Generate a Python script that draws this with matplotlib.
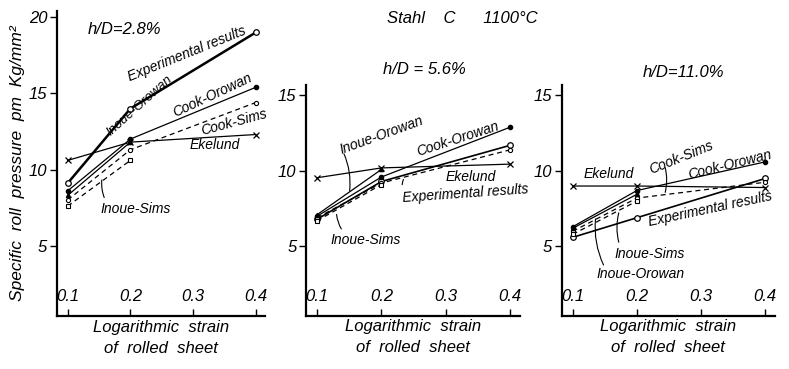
import matplotlib
matplotlib.use("Agg")
import matplotlib.pyplot as plt

plt.rcParams["font.family"] = ["Liberation Sans", "DejaVu Sans"]
plt.rcParams["font.style"] = "italic"

# logarithmic strain of rolled sheet
strain = [0.1, 0.2, 0.4]
strain_inoue = [0.1, 0.2]

# h/D = 2.8 %
exp_28 = [9.1, 14.0, 19.0]
cook_orowan_28 = [8.6, 12.0, 15.4]
cook_sims_28 = [8.0, 11.3, 14.4]
ekelund_28 = [10.6, 11.8, 12.3]
inoue_orowan_28 = [8.3, 11.8]
inoue_sims_28 = [7.6, 10.6]

# h/D = 5.6 %
exp_56 = [6.8, 9.3, 11.7]
cook_orowan_56 = [7.0, 9.6, 12.9]
cook_sims_56 = [6.9, 9.2, 11.4]
ekelund_56 = [9.55, 10.2, 10.45]
inoue_orowan_56 = [7.1, 10.1]
inoue_sims_56 = [6.7, 9.1]

# h/D = 11.0 %
exp_110 = [5.6, 6.9, 9.5]
cook_orowan_110 = [6.3, 8.7, 10.6]
cook_sims_110 = [6.0, 8.2, 9.25]
ekelund_110 = [9.0, 9.0, 8.9]
inoue_orowan_110 = [6.2, 8.45]
inoue_sims_110 = [5.8, 8.0]

x_ticks = [0.1, 0.2, 0.3, 0.4]
x_tick_labels = ["0.1", "0.2", "0.3", "0.4"]


def draw_panel(ax, exp, co, cs, ek, io, isi, exp_lw=1.2):
    kw = dict(color="black", clip_on=False)
    ax.plot(strain, exp, lw=exp_lw, marker="o", ms=4, mfc="white", mew=0.9, **kw)
    ax.plot(strain, co, lw=0.9, marker="o", ms=3, mfc="black", **kw)
    ax.plot(strain, cs, lw=0.9, ls=(0, (4, 3)), marker="o", ms=3, mfc="white", mew=0.8, **kw)
    ax.plot(strain, ek, lw=0.9, marker="x", ms=4, mew=0.9, **kw)
    ax.plot(strain_inoue, io, lw=0.9, marker="^", ms=3, mfc="black", **kw)
    ax.plot(strain_inoue, isi, lw=0.9, ls=(0, (4, 3)), marker="s", ms=3, mfc="white", mew=0.8, **kw)


def style_axes(ax, ymax, yticks):
    ax.set_xlim(0.083, 0.415)
    ax.set_ylim(0.4, ymax)
    for side in ("top", "right"):
        ax.spines[side].set_visible(False)
    for side in ("left", "bottom"):
        ax.spines[side].set_linewidth(1.6)
    ax.set_xticks(x_ticks)
    ax.set_xticklabels(x_tick_labels)
    ax.set_yticks(yticks)
    ax.set_yticklabels([str(v) for v in yticks])
    ax.tick_params(axis="x", direction="in", length=5, width=1.0, pad=-19, labelsize=12)
    ax.tick_params(axis="y", direction="out", length=5, width=1.0, pad=2, labelsize=12)
    ax.text(0.5, -0.015, "Logarithmic  strain\nof  rolled  sheet", transform=ax.transAxes,
            ha="center", va="top", fontsize=12, linespacing=1.45)


def label(ax, s, x, y, rot=0, size=10, **kw):
    ax.text(x, y, s, rotation=rot, ha="center", va="center", fontsize=size,
            rotation_mode="anchor", clip_on=False, **kw)


def leader(ax, x0, y0, x1, y1):
    ax.annotate("", xy=(x1, y1), xytext=(x0, y0),
                arrowprops=dict(arrowstyle="-", color="black", lw=0.8,
                                connectionstyle="arc3,rad=-0.15"),
                annotation_clip=False)


fig = plt.figure(figsize=(7.89, 3.69), dpi=100)

ax1 = fig.add_axes([0.0722, 0.144, 0.264, 0.826])
ax2 = fig.add_axes([0.388, 0.144, 0.271, 0.626])
ax3 = fig.add_axes([0.712, 0.144, 0.270, 0.626])

draw_panel(ax1, exp_28, cook_orowan_28, cook_sims_28, ekelund_28,
           inoue_orowan_28, inoue_sims_28, exp_lw=1.8)
draw_panel(ax2, exp_56, cook_orowan_56, cook_sims_56, ekelund_56,
           inoue_orowan_56, inoue_sims_56)
draw_panel(ax3, exp_110, cook_orowan_110, cook_sims_110, ekelund_110,
           inoue_orowan_110, inoue_sims_110)

style_axes(ax1, 20.4, [5, 10, 15, 20])
style_axes(ax2, 15.7, [5, 10, 15])
style_axes(ax3, 15.7, [5, 10, 15])

ax1.set_ylabel("Specific  roll  pressure  pm  Kg/mm²", fontsize=12.5, labelpad=3)

# panel 1 labels
label(ax1, "h/D=2.8%", 0.19, 19.2, size=12)
label(ax1, "Experimental results", 0.29, 17.6, rot=22)
label(ax1, "Inoue-Orowan", 0.215, 14.2, rot=42, size=9.5)
label(ax1, "Cook-Orowan", 0.33, 14.9, rot=25)
label(ax1, "Cook-Sims", 0.365, 13.1, rot=15)
label(ax1, "Ekelund", 0.335, 11.6)
label(ax1, "Inoue-Sims", 0.209, 7.4)
leader(ax1, 0.16, 8.0, 0.155, 9.5)

# panel 2 labels
label(ax2, "h/D = 5.6%", 0.267, 16.7, size=12)
label(ax2, "Inoue-Orowan", 0.2, 12.4, rot=20)
leader(ax2, 0.14, 11.3, 0.15, 8.5)
label(ax2, "Cook-Orowan", 0.318, 12.1, rot=18)
label(ax2, "Ekelund", 0.339, 9.6)
label(ax2, "Experimental results", 0.33, 8.5, rot=4)
leader(ax2, 0.232, 8.9, 0.236, 9.6)
label(ax2, "Inoue-Sims", 0.175, 5.4)
leader(ax2, 0.14, 6.0, 0.13, 7.3)

# panel 3 labels
label(ax3, "h/D=11.0%", 0.273, 16.5, size=12)
label(ax3, "Ekelund", 0.157, 9.8)
label(ax3, "Cook-Sims", 0.27, 10.9, rot=22)
leader(ax3, 0.243, 10.4, 0.243, 8.4)
label(ax3, "Cook-Orowan", 0.345, 10.4, rot=14)
label(ax3, "Experimental results", 0.315, 7.5, rot=12)
label(ax3, "Inoue-Sims", 0.22, 4.5)
leader(ax3, 0.173, 5.1, 0.173, 7.4)
label(ax3, "Inoue-Orowan", 0.205, 3.2)
leader(ax3, 0.15, 3.6, 0.136, 7.0)

fig.text(0.586, 0.95, "Stahl    C      1100°C", ha="center", va="center", fontsize=12)

fig.savefig("out.png", dpi=100)
